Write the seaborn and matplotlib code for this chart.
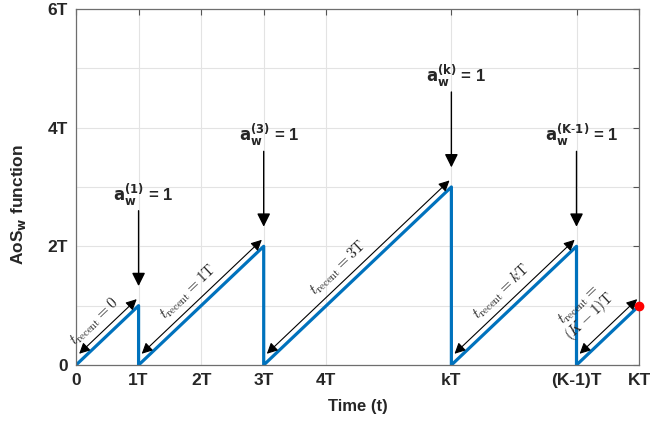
import numpy as np
import pandas as pd
import matplotlib
matplotlib.use('Agg')
import matplotlib.pyplot as plt
import seaborn as sns

# sawtooth AoS_w function (in units of T)
times = [0, 1, 1, 3, 3, 6, 6, 8, 8, 9]
aos = [0, 1, 0, 2, 0, 3, 0, 2, 0, 1]

xtick_pos = [0, 1, 2, 3, 4, 6, 8, 9]
xtick_labels = ['0', '1T', '2T', '3T', '4T', 'kT', '(K-1)T', 'KT']
ytick_pos = [0, 1, 2, 3, 4, 5, 6]
ytick_labels = ['0', '', '2T', '', '4T', '', '6T']

# ramps: (start, end) of each rising segment
ramp_start = [0, 1, 3, 6, 8]
ramp_end = [1, 3, 6, 8, 9]
ramp_labels = [r'$t_{\mathrm{recent}} = 0$', r'$t_{\mathrm{recent}} = 1\mathrm{T}$',
               r'$t_{\mathrm{recent}} = 3\mathrm{T}$', r'$t_{\mathrm{recent}} = k\mathrm{T}$',
               r'$t_{\mathrm{recent}} =$' + '\n' + r'$(K-1)\mathrm{T}$']

# update events (peaks)
peak_x = [1, 3, 6, 8]
peak_y = [1, 2, 3, 2]
peak_labels = [r'$\mathbf{a}_{\mathbf{w}}^{\mathbf{(1)}}$ = 1',
               r'$\mathbf{a}_{\mathbf{w}}^{\mathbf{(3)}}$ = 1',
               r'$\mathbf{a}_{\mathbf{w}}^{\mathbf{(k)}}$ = 1',
               r'$\mathbf{a}_{\mathbf{w}}^{\mathbf{(K\text{-}1)}}$ = 1']

sns.set_style('whitegrid')
plt.rcParams['font.family'] = ['Liberation Sans', 'DejaVu Sans']
plt.rcParams['mathtext.fontset'] = 'dejavusans'

fig = plt.figure(figsize=(6.57, 4.23), dpi=100)
ax = fig.add_axes([0.1157, 0.137, 0.857, 0.842])

df = pd.DataFrame({'t': times, 'aos': aos})
sns.lineplot(data=df, x='t', y='aos', sort=False, estimator=None,
             color='#0072BD', linewidth=2.3, ax=ax)
ax.plot(times[-1], aos[-1], 'o', color='red', markersize=6, clip_on=False, zorder=5)

ax.set_xlim(0, 9)
ax.set_ylim(0, 6)
ax.set_xticks(xtick_pos)
ax.set_xticklabels(xtick_labels, fontweight='bold', fontsize=12.5)
ax.set_yticks(ytick_pos)
ax.set_yticklabels(ytick_labels, fontweight='bold', fontsize=12.5)
ax.tick_params(direction='in', top=True, right=True, length=4, width=0.8,
               color='#555555', pad=6)
ax.grid(True, color='#e3e3e3', linewidth=0.8)
for s in ax.spines.values():
    s.set_color('#6e6e6e')
    s.set_linewidth(0.9)

ax.set_xlabel('Time (t)', fontweight='bold', fontsize=12, labelpad=8)
ax.set_ylabel(r'AoS$_{\mathbf{w}}$ function', fontsize=12.5, fontweight='bold')
ax.yaxis.set_label_coords(-0.085, 0.45)

# double arrows along ramps with t_recent labels
ang = np.degrees(np.arctan2(59.3, 62.6))
for i, (x0, x1) in enumerate(zip(ramp_start, ramp_end)):
    off = 0.14
    ax.annotate('', xy=(x1 - 0.03, (x1 - x0) - 0.03 + off),
                xytext=(x0 + 0.05, 0.05 + off),
                arrowprops=dict(arrowstyle='<|-|>', color='black', lw=0.8,
                                mutation_scale=16, shrinkA=0, shrinkB=0))
    xm = (x0 + x1) / 2
    d = 24 if i == 4 else 14
    if i == 2:
        xm -= 0.1
    ax.annotate(ramp_labels[i], xy=(xm, xm - x0),
                xytext=(-np.sin(np.radians(ang)) * d, np.cos(np.radians(ang)) * d),
                textcoords='offset points', rotation=ang, rotation_mode='anchor',
                ha='center', va='center', fontsize=11, math_fontfamily='cm',
                multialignment='center', linespacing=0.9)

# update-event arrows
for px, py, lab in zip(peak_x, peak_y, peak_labels):
    ax.annotate('', xy=(px, py + 0.33), xytext=(px, py + 1.6),
                arrowprops=dict(arrowstyle='-|>', color='black', lw=1,
                                mutation_scale=20, shrinkA=0, shrinkB=0))
    ax.text(px + 0.08, py + 1.65, lab, ha='center', va='bottom',
            fontsize=12, fontweight='bold')

fig.savefig('out.png', dpi=100)
